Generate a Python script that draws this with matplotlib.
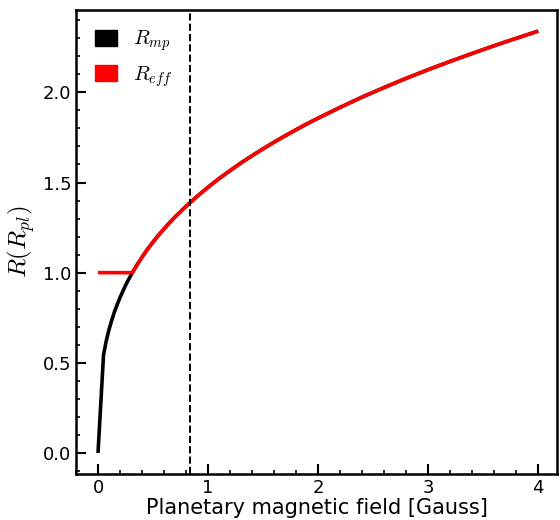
import matplotlib
matplotlib.use("Agg")
import matplotlib.pyplot as plt
from matplotlib.patches import Patch
from matplotlib.ticker import MultipleLocator

plt.rcParams['mathtext.fontset'] = 'cm'

# Curve (shared part beyond R = 1)
b_tail = [0.312, 0.35, 0.4, 0.45, 0.5, 0.55, 0.6, 0.65, 0.7, 0.8, 0.9, 1.0, 1.1,
          1.2, 1.3, 1.4, 1.5, 1.6, 1.7, 1.8, 1.9, 2.0, 2.2, 2.4, 2.6, 2.8, 3.0,
          3.2, 3.4, 3.6, 3.8, 4.0]
r_tail = [1.0, 1.039, 1.086, 1.130, 1.170, 1.208, 1.243, 1.277, 1.309, 1.368, 1.423,
          1.474, 1.522, 1.566, 1.609, 1.649, 1.687, 1.724, 1.759, 1.793, 1.826,
          1.857, 1.917, 1.974, 2.027, 2.078, 2.126, 2.172, 2.216, 2.259, 2.300,
          2.340]

# Magnetopause radius
b_mp = [0.0, 0.05, 0.075, 0.1, 0.125, 0.15, 0.175, 0.2, 0.225, 0.25, 0.275, 0.3] + b_tail
r_mp = [0.0, 0.543, 0.622, 0.684, 0.737, 0.783, 0.824, 0.862, 0.896, 0.929, 0.959, 0.987] + r_tail
# Effective radius
b_eff = [0.0] + b_tail
r_eff = [1.0] + r_tail
b_line = 0.84
legend_labels = [r'$R_{mp}$', r'$R_{eff}$']

fig = plt.figure(figsize=(5.6, 5.2), dpi=100)
ax = fig.add_axes([76/560, (520-474)/520, (557-76)/560, (474-10)/520])

ax.plot(b_mp, r_mp, color='black', lw=2.6, solid_capstyle='butt')
ax.plot(b_eff, r_eff, color='red', lw=2.6, solid_capstyle='butt')
ax.axvline(b_line, color='black', ls='--', lw=1.4)

ax.set_xlim(-0.2, 4.17)
ax.set_ylim(-0.117, 2.457)

ax.xaxis.set_major_locator(MultipleLocator(1))
ax.xaxis.set_minor_locator(MultipleLocator(0.2))
ax.yaxis.set_major_locator(MultipleLocator(0.5))
ax.yaxis.set_minor_locator(MultipleLocator(0.1))
ax.tick_params(which='major', direction='in', length=7, width=1.5, labelsize=13)
ax.tick_params(which='minor', direction='in', length=3, width=1.2)
for s in ax.spines.values():
    s.set_linewidth(1.8)

ax.set_xlabel('Planetary magnetic field [Gauss]', fontsize=15, labelpad=1)
ax.set_ylabel(r'$R(R_{pl})$', fontsize=18)

handles = [Patch(facecolor='black', edgecolor='black'), Patch(facecolor='red', edgecolor='red')]
ax.legend(handles, legend_labels, loc='upper left', frameon=False, fontsize=15,
          handlelength=1.05, handleheight=0.8, handletextpad=0.8)

fig.savefig('out.png', dpi=100)
